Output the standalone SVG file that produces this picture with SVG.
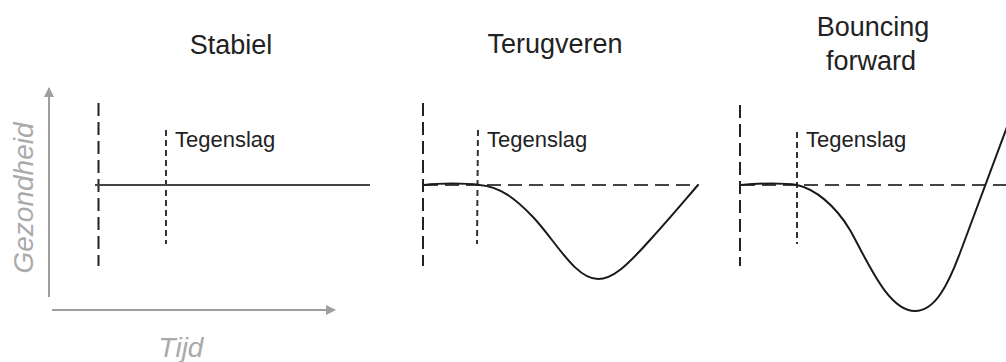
<svg xmlns="http://www.w3.org/2000/svg" width="1006" height="362" viewBox="0 0 1006 362">
<style>
.title{font-family:"Liberation Sans",Arial,sans-serif;font-size:27px;fill:#222;text-anchor:middle}
.lbl{font-family:"Liberation Sans",Arial,sans-serif;font-size:22px;fill:#222}
.axlbl{font-family:"Liberation Sans",Arial,sans-serif;font-size:28px;font-style:italic;fill:#aaa;text-anchor:middle}
.axis{stroke:#9e9e9e;stroke-width:2;fill:none}
.vdash{stroke:#222;stroke-width:2;stroke-dasharray:13 6;fill:none}
.vdot{stroke:#333;stroke-width:2;stroke-dasharray:6 4;fill:none}
.hdash{stroke:#444;stroke-width:2;stroke-dasharray:14 7;fill:none}
.curve{stroke:#1a1a1a;stroke-width:2;fill:none}
</style>
<defs>
<marker id="ah" viewBox="0 0 10 10" refX="9" refY="5" markerWidth="5" markerHeight="5" orient="auto" markerUnits="strokeWidth">
<path d="M0,0 L10,5 L0,10 z" fill="#9e9e9e"/>
</marker>
</defs>
<g id="axes">
<line class="axis" x1="49" y1="297" x2="49" y2="88" marker-end="url(#ah)"/>
<line class="axis" x1="52" y1="310" x2="335" y2="310" marker-end="url(#ah)"/>
<text class="axlbl" transform="translate(33,198) rotate(-90)">Gezondheid</text>
<text class="axlbl" x="181" y="357">Tijd</text>
</g>
<g id="panel-stabiel">
<text class="title" x="231" y="54">Stabiel</text>
<line class="vdash" x1="98.5" y1="103" x2="98.5" y2="266"/>
<line class="vdot" x1="166" y1="130" x2="166" y2="244"/>
<text class="lbl" x="175" y="147">Tegenslag</text>
<line x1="95" y1="185" x2="370" y2="185" stroke="#444" stroke-width="2"/>
</g>
<g id="panel-terugveren">
<text class="title" x="555" y="53">Terugveren</text>
<line class="vdash" x1="423" y1="103" x2="423" y2="266"/>
<line class="vdot" x1="478" y1="130" x2="477" y2="244"/>
<text class="lbl" x="487" y="147">Tegenslag</text>
<line class="hdash" x1="424" y1="185" x2="699" y2="185"/>
<path class="curve" d="M424,185 C440,183 465,183 480,185 C500,187 515,198 533,217 C555,240 575,279 598,279 C612,279 625,268 650,240 C670,218 685,200 698,185"/>
</g>
<g id="panel-bouncing">
<text class="title" x="873" y="36">Bouncing</text>
<text class="title" x="871" y="70">forward</text>
<line class="vdash" x1="740" y1="105" x2="740" y2="266"/>
<line class="vdot" x1="797" y1="132" x2="797" y2="244"/>
<text class="lbl" x="806" y="147">Tegenslag</text>
<line class="hdash" x1="741" y1="185" x2="1006" y2="185"/>
<path class="curve" d="M741,185 C760,183 785,183 797,185 C815,189 835,205 850,230 C868,262 888,311 915,311 C935,311 948,285 960,253 L1010,119"/>
</g>
</svg>
